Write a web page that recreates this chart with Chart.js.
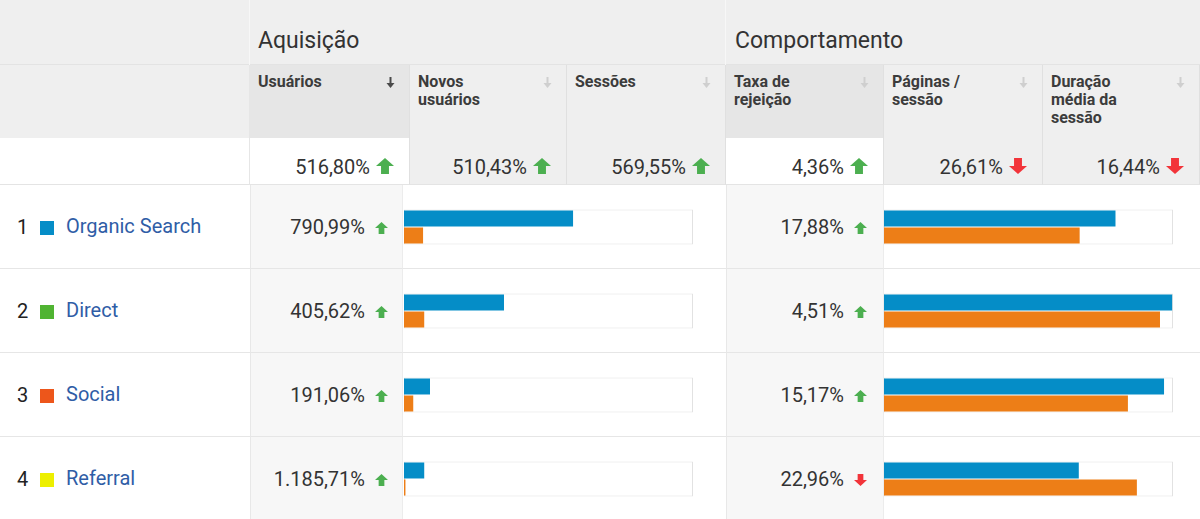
<!DOCTYPE html>
<html lang="pt-BR">
<head>
  <meta charset="UTF-8">
  <title>Aquisição e Comportamento por canal</title>
  <script src="https://cdn.jsdelivr.net/npm/chart.js"></script>
  <style>
    body {
      margin: 0;
      width: 1200px;
      height: 519px;
      overflow: hidden;
      background: #fff;
      font-family: Roboto, 'Noto Sans', sans-serif;
      color: #333;
      position: relative;
    }
    .cell {
      position: absolute;
      box-sizing: border-box;
    }
    .grupo {
      position: absolute;
      top: 27px;
      font-size: 23px;
      line-height: 28px;
      color: #333;
    }
    .colTitulo {
      position: absolute;
      top: 73px;
      font-size: 16px;
      line-height: 18px;
      font-weight: bold;
      color: #3c3c3c;
    }
    .valor {
      position: absolute;
      font-size: 20px;
      line-height: 24px;
      color: #333;
      text-align: right;
      white-space: nowrap;
    }
    .canal {
      position: absolute;
      font-size: 20px;
      line-height: 24px;
      color: #2f5da6;
      white-space: nowrap;
    }
    .num {
      position: absolute;
      font-size: 20px;
      line-height: 24px;
      color: #222;
    }
    .quad {
      position: absolute;
      width: 14px;
      height: 14px;
    }
    svg { position: absolute; }
    canvas { position: absolute; }
  </style>
</head>
<body>
  <div id="tabela"></div>
  <canvas id="aquisicaoChart" width="289" height="336" style="left:404px; top:185px;"></canvas>
  <canvas id="rejeicaoChart" width="289" height="336" style="left:884px; top:185px;"></canvas>

  <script>
    // dados
    const canais = ['Organic Search', 'Direct', 'Social', 'Referral'];
    const colunas = ['Usuários', 'Novos usuários', 'Sessões', 'Taxa de rejeição', 'Páginas / sessão', 'Duração média da sessão'];
    const totaisVar = ['516,80%', '510,43%', '569,55%', '4,36%', '26,61%', '16,44%'];
    const totaisSobe = [true, true, true, true, false, false];
    const usuariosVar = ['790,99%', '405,62%', '191,06%', '1.185,71%'];
    const usuariosSobe = [true, true, true, true];
    const rejeicaoVar = ['17,88%', '4,51%', '15,17%', '22,96%'];
    const rejeicaoSobe = [true, true, true, false];
    // barras (% da escala) periodo atual x anterior
    const usuariosAtual = [58.5, 34.6, 9.0, 7.0];
    const usuariosAnterior = [6.6, 7.0, 3.2, 0.5];
    const rejeicaoAtual = [80.1, 99.7, 96.9, 67.4];
    const rejeicaoAnterior = [67.7, 95.5, 84.4, 87.5];

    // layout
    const corCanal = ['#058dc7', '#50b432', '#ed561b', '#edef00'];
    const colX = [250, 410, 567, 726, 884, 1043, 1200];
    const colTitulos = [['Usuários'], ['Novos', 'usuários'], ['Sessões'], ['Taxa de', 'rejeição'], ['Páginas /', 'sessão'], ['Duração', 'média da', 'sessão']];
    const colOrdenada = [true, false, false, false, false, false];
    const colDestaque = [true, false, false, true, false, false];
    const linhaTopo = 185, linhaAlt = 84;

    const tabela = document.getElementById('tabela');
    function caixa(x, y, w, h, css) {
      const d = document.createElement('div');
      d.className = 'cell';
      d.style.cssText = `left:${x}px;top:${y}px;width:${w}px;height:${h}px;` + css;
      tabela.appendChild(d);
      return d;
    }
    function texto(cls, txt, css) {
      const d = document.createElement('div');
      d.className = cls;
      d.innerHTML = txt;
      d.style.cssText = css;
      tabela.appendChild(d);
      return d;
    }
    function seta(x, y, w, h, sobe) {
      const cor = sobe ? '#4caf50' : '#f2343a';
      const pts = sobe
        ? `${w/2},0 ${w},${h*0.5} ${w*0.72},${h*0.5} ${w*0.72},${h} ${w*0.28},${h} ${w*0.28},${h*0.5} 0,${h*0.5}`
        : `${w*0.28},0 ${w*0.72},0 ${w*0.72},${h*0.5} ${w},${h*0.5} ${w/2},${h} 0,${h*0.5} ${w*0.28},${h*0.5}`;
      tabela.insertAdjacentHTML('beforeend',
        `<svg style="left:${x}px;top:${y}px" width="${w}" height="${h}"><polygon points="${pts}" fill="${cor}"/></svg>`);
    }
    function setaOrdem(x, y, ativa) {
      const cor = ativa ? '#4a4a4a' : '#cfcfcf';
      tabela.insertAdjacentHTML('beforeend',
        `<svg style="left:${x}px;top:${y}px" width="9" height="12"><rect x="3.5" y="0" width="2" height="7" fill="${cor}"/><polygon points="0.5,6 8.5,6 4.5,11" fill="${cor}"/></svg>`);
    }

    // linha de grupos
    caixa(0, 0, 1200, 65, 'background:#efefef;border-bottom:1px solid #e3e3e3;');
    caixa(249, 0, 1, 65, 'background:#f7f7f7;');
    caixa(725, 0, 1, 65, 'background:#f7f7f7;');
    texto('grupo', 'Aquisição', 'left:258px;');
    texto('grupo', 'Comportamento', 'left:735px;');

    // titulos das colunas + totais
    caixa(0, 65, 250, 73, 'background:#efefef;border-right:1px solid #e6e6e6;');
    caixa(0, 138, 250, 47, 'background:#fff;border-right:1px solid #e6e6e6;border-bottom:1px solid #e4e4e4;');
    colunas.forEach((c, i) => {
      const x = colX[i], w = colX[i + 1] - colX[i];
      caixa(x, 65, w, 73, `background:${colDestaque[i] ? '#e6e6e6' : '#efefef'};border-right:1px solid #e0e0e0;`);
      caixa(x, 138, w, 47, `background:${colDestaque[i] ? '#fff' : '#efefef'};border-right:1px solid #e0e0e0;border-bottom:1px solid #e4e4e4;`);
      texto('colTitulo', colTitulos[i].join('<br>'), `left:${x + 8}px;`);
      setaOrdem(x + w - 24, 77, colOrdenada[i]);
      texto('valor', totaisVar[i], `left:${x}px;width:${w - 40}px;top:155px;`);
      seta(x + w - 34, 158, 18, 16, totaisSobe[i]);
    });

    // linhas de dados
    canais.forEach((c, i) => {
      const y = linhaTopo + i * linhaAlt;
      caixa(0, y, 1200, linhaAlt, 'border-bottom:1px solid #e6e6e6;');
      caixa(250, y, 153, linhaAlt, 'background:#f7f7f7;border-left:1px solid #e8e8e8;border-right:1px solid #ececec;border-bottom:1px solid #e6e6e6;');
      caixa(726, y, 158, linhaAlt, 'background:#f7f7f7;border-left:1px solid #e8e8e8;border-right:1px solid #ececec;border-bottom:1px solid #e6e6e6;');
      texto('num', String(i + 1), `left:17px;top:${y + 30}px;`);
      const q = document.createElement('div');
      q.className = 'quad';
      q.style.cssText = `left:40px;top:${y + 36}px;background:${corCanal[i]};`;
      tabela.appendChild(q);
      texto('canal', c, `left:66px;top:${y + 29}px;`);
      texto('valor', usuariosVar[i], `left:250px;width:115px;top:${y + 30}px;`);
      seta(375, y + 37, 13, 12, usuariosSobe[i]);
      texto('valor', rejeicaoVar[i], `left:726px;width:118px;top:${y + 30}px;`);
      seta(854, y + 37, 13, 12, rejeicaoSobe[i]);
    });

    function miniBarras(canvasId, atual, anterior) {
      new Chart(document.getElementById(canvasId), {
        type: 'bar',
        data: {
          labels: canais,
          datasets: [
            {
              label: 'Atual',
              data: atual,
              backgroundColor: '#058dc7',
              borderWidth: 0,
              categoryPercentage: 0.405,
              barPercentage: 0.94,
              order: 0
            },
            {
              label: 'Anterior',
              data: anterior,
              backgroundColor: '#ed7e17',
              borderWidth: 0,
              categoryPercentage: 0.405,
              barPercentage: 0.94,
              order: 1
            },
            {
              label: 'Escala',
              data: canais.map(() => 100),
              backgroundColor: '#ffffff',
              borderColor: '#e2e2e2',
              borderWidth: 1,
              borderSkipped: false,
              grouped: false,
              categoryPercentage: 0.417,
              barPercentage: 1,
              order: 5
            }
          ]
        },
        options: {
          indexAxis: 'y',
          responsive: false,
          animation: false,
          layout: { padding: 0 },
          plugins: { legend: { display: false }, tooltip: { enabled: false } },
          scales: {
            x: { display: false, min: 0, max: 100, grid: { display: false } },
            y: { display: false, grid: { display: false } }
          }
        }
      });
    }

    miniBarras('aquisicaoChart', usuariosAtual, usuariosAnterior);
    miniBarras('rejeicaoChart', rejeicaoAtual, rejeicaoAnterior);
  </script>
</body>
</html>
